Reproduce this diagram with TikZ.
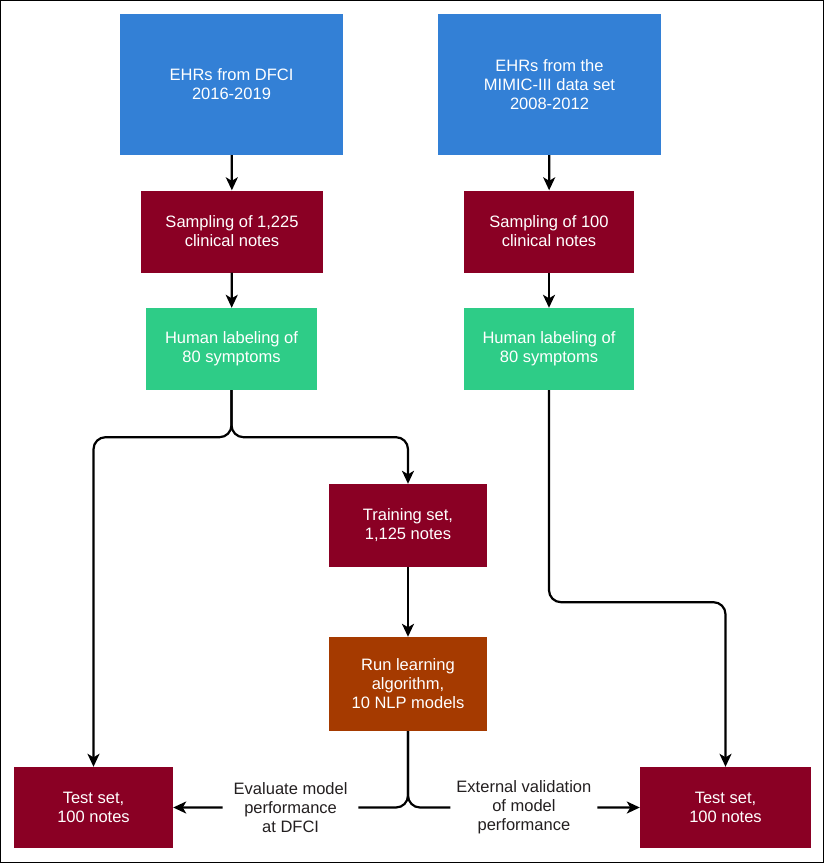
\documentclass[tikz,border=0pt]{standalone}
\usepackage{fontspec}
\setmainfont{Liberation Sans}
\usepackage{xcolor}
\usepackage{tikz}
\usetikzlibrary{arrows.meta,positioning}
\definecolor{ehrblue}{HTML}{3380D6}
\definecolor{noteRed}{HTML}{8A0024}
\definecolor{labelGreen}{HTML}{2ECC87}
\definecolor{runOrange}{HTML}{A53A00}
\definecolor{txtdark}{HTML}{231F20}
\tikzset{
  blk/.style={rectangle, inner sep=0pt, align=center, text=white, font=\fontsize{16.5}{19}\selectfont},
  srcbox/.style={blk, fill=ehrblue, minimum width=223pt, minimum height=141pt},
  redbox/.style={blk, fill=noteRed, minimum height=82pt},
  greenbox/.style={blk, fill=labelGreen, minimum width=171pt, minimum height=82pt},
  runbox/.style={blk, fill=runOrange, minimum width=158pt, minimum height=94pt},
  lbl/.style={fill=white, align=center, text=txtdark, inner ysep=2pt, font=\fontsize{16.5}{19}\selectfont},
  arr/.style={-{Stealth[length=13pt,width=12pt,inset=3.5pt]}, line width=2.2pt},
  frame/.style={draw=black, line width=1pt}
}
\begin{document}
\begin{tikzpicture}[x=1pt,y=-1pt]
\useasboundingbox (0,0) rectangle (825,863);
\draw[frame] (0.5,0.5) rectangle (823.5,862.5);
\node[srcbox] (ehr1) at (231.5,84.5) {EHRs from DFCI\\2016-2019};
\node[srcbox] (ehr2) at (549.5,84.5) {EHRs from the\\MIMIC-III data set\\2008-2012};
\node[redbox, minimum width=182pt] (samp1) at (232,231.5) {Sampling of 1,225\\clinical notes};
\node[redbox, minimum width=170pt] (samp2) at (549,231.5) {Sampling of 100\\clinical notes};
\node[greenbox] (hum1) at (231.5,349) {Human labeling of\\80 symptoms};
\node[greenbox, minimum width=170pt] (hum2) at (549,349) {Human labeling of\\80 symptoms};
\node[redbox, minimum width=158pt, minimum height=83pt] (train) at (408,525.5) {Training set,\\1,125 notes};
\node[runbox] (run) at (408,684) {Run learning\\algorithm,\\10 NLP models};
\node[redbox, minimum width=159pt, minimum height=81pt] (test1) at (93.5,807.5) {Test set,\\100 notes};
\node[redbox, minimum width=171pt, minimum height=81pt] (test2) at (725.5,807.5) {Test set,\\100 notes};
\draw[arr] (ehr1) -- (samp1); \draw[arr] (samp1) -- (hum1);
\draw[arr] (ehr2) -- (samp2); \draw[arr] (samp2) -- (hum2);
\draw[arr] (train) -- (run);
\draw[arr, rounded corners=12pt] (hum1.south) -- ++(0,47) -| (test1.north);
\draw[arr, rounded corners=12pt] (hum1.south) -- ++(0,47) -| (train.north);
\draw[arr, rounded corners=12pt] (hum2.south) -- ++(0,212) -| (test2.north);
\draw[arr, rounded corners=12pt] (run.south) |- node[pos=0.75, lbl, inner xsep=11pt] {Evaluate model\\performance\\at DFCI} (test1.east);
\draw[arr, rounded corners=12pt] (run.south) |- node[pos=0.75, lbl, inner xsep=6pt] {External validation\\of model\\performance} (test2.west);
\end{tikzpicture}
\end{document}
